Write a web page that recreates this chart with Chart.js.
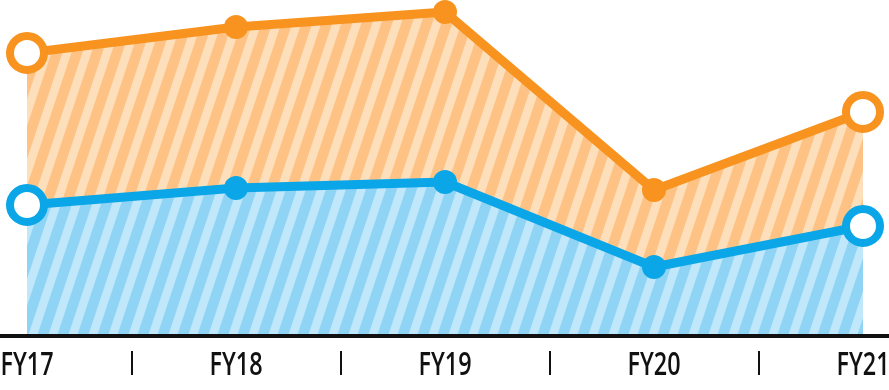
<!DOCTYPE html>
<html>
<head>
<meta charset="utf-8">
<script src="https://cdn.jsdelivr.net/npm/chart.js@4/dist/chart.umd.min.js"></script>
<style>
  html, body { margin: 0; padding: 0; background: #fff; }
</style>
</head>
<body>
<canvas id="grafico" width="889" height="390"></canvas>
<script>
// --- datos ---
const anios = ['FY17', 'FY18', 'FY19', 'FY20', 'FY21'];
const serieNaranja = [283, 309, 324, 146, 224];
const serieAzul = [131, 148, 154, 69, 110];

const NARANJA = '#f7931e';
const AZUL = '#0aa6e8';

// patron de rayas diagonales
function rayas(fondo, claro) {
    const c = document.createElement('canvas');
    const W = 20, H = 60, w = 9;
    c.width = W; c.height = H;
    const g = c.getContext('2d');
    g.fillStyle = fondo;
    g.fillRect(0, 0, W, H);
    g.fillStyle = claro;
    for (let k = -2; k <= 1; k++) {
        const x0 = k * W;
        g.beginPath();
        g.moveTo(x0, H);
        g.lineTo(x0 + w, H);
        g.lineTo(x0 + W + w, 0);
        g.lineTo(x0 + W, 0);
        g.closePath();
        g.fill();
    }
    return g.createPattern(c, 'repeat');
}

function puntos(color) {
    return {
        pointRadius: [17, 12, 12, 12, 17],
        pointHoverRadius: [17, 12, 12, 12, 17],
        pointBorderWidth: [8, 0, 0, 0, 8],
        pointBackgroundColor: ['#fff', color, color, color, '#fff'],
        pointBorderColor: color
    };
}

// linea base, separadores y etiquetas (estrechas)
const ejePlugin = {
    id: 'eje',
    afterDraw(chart) {
        const ctx = chart.ctx;
        const x = chart.scales.x;
        const y0 = chart.chartArea.bottom;
        ctx.save();
        ctx.fillStyle = '#111';
        ctx.fillRect(0, y0 - 2, chart.width, 4);
        for (let i = 0; i < anios.length - 1; i++) {
            const xm = (x.getPixelForValue(i) + x.getPixelForValue(i + 1)) / 2;
            ctx.fillRect(Math.round(xm) - 1, 351, 2, 24);
        }
        ctx.font = '600 32px "Open Sans", "Liberation Sans", sans-serif';
        ctx.textAlign = 'center';
        ctx.textBaseline = 'alphabetic';
        const esc = 53 / ctx.measureText(anios[0]).width;
        anios.forEach((a, i) => {
            ctx.save();
            ctx.translate(x.getPixelForValue(i), 375);
            ctx.scale(esc, 1);
            ctx.fillText(a, 0, 0);
            ctx.restore();
        });
        ctx.restore();
    }
};

new Chart(document.getElementById('grafico'), {
    type: 'line',
    data: {
        labels: anios,
        datasets: [
            Object.assign({
                data: serieAzul,
                borderColor: AZUL,
                borderWidth: 9,
                backgroundColor: rayas('#8fd4f5', '#c0e7fa'),
                fill: 'origin',
                tension: 0,
                borderJoinStyle: 'round',
                clip: false
            }, puntos(AZUL)),
            Object.assign({
                data: serieNaranja,
                borderColor: NARANJA,
                borderWidth: 9,
                backgroundColor: rayas('#fdc284', '#fedfbb'),
                fill: '-1',
                tension: 0,
                borderJoinStyle: 'round',
                clip: false
            }, puntos(NARANJA))
        ]
    },
    options: {
        responsive: false,
        animation: false,
        layout: { autoPadding: false, padding: { left: 27, right: 26, top: 0, bottom: 54 } },
        plugins: { legend: { display: false }, tooltip: { enabled: false } },
        scales: {
            y: { display: false, min: 0, max: 336 },
            x: { display: false }
        }
    },
    plugins: [ejePlugin]
});
</script>
</body>
</html>
